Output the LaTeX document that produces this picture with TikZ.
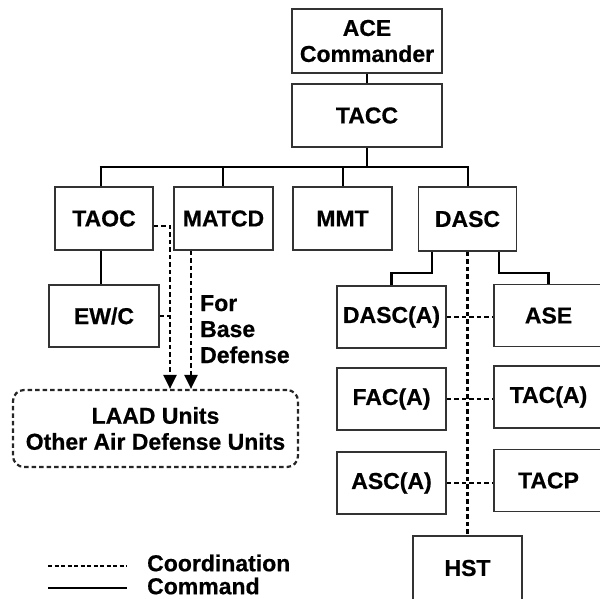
\documentclass[tikz,border=0pt]{standalone}
\usepackage{fontspec}
\setmainfont[BoldFeatures={FakeBold=0.6}]{Liberation Sans}
\usetikzlibrary{arrows.meta}
\begin{document}
\begin{tikzpicture}[x=1pt,y=-1pt,
  box/.style={draw=black!80, line width=1.6pt, inner sep=0pt, minimum width=109pt, minimum height=62pt,
    font=\bfseries\fontsize{23}{26}\selectfont, align=center},
  lbl/.style={inner sep=0pt, font=\bfseries\fontsize{23}{26}\selectfont},
  cmd/.style={line width=2.8pt},
  coord/.style={line width=2.4pt, dash pattern=on 4.5pt off 3pt},
  coordleg/.style={line width=1.8pt, dash pattern=on 4pt off 2.5pt},
  arr/.style={-{Triangle[length=14pt,width=13pt]}}]
\useasboundingbox (0,0) rectangle (600,598);
% boxes
\node[box, minimum width=150pt, minimum height=64pt] (ace) at (367,41) {ACE\\Commander};
\node[box, minimum width=150pt, minimum height=63pt] (tacc) at (367,115.5) {TACC};
\node[box, minimum width=98pt, minimum height=63pt] (taoc) at (104,218.5) {TAOC};
\node[box, minimum width=99pt, minimum height=63pt] (matcd) at (223.5,218.5) {MATCD};
\node[box, minimum width=99pt, minimum height=63pt] (mmt) at (342.5,218.5) {MMT};
\node[box, minimum width=98pt, minimum height=64pt] (dasc) at (467.5,219) {DASC};
\node[box, minimum width=110pt] (ewc) at (104,316) {EW/C};
\node[draw=black!85, line width=2.2pt, dash pattern=on 4.5pt off 3pt, rounded corners=11pt,
  minimum width=285pt, minimum height=77pt, inner sep=0pt,
  font=\bfseries\fontsize{23}{26}\selectfont, align=center] (laad) at (155.5,428.5) {LAAD Units\\Other Air Defense Units};
\node[box] (dasca) at (391.5,317) {DASC(A)};
\node[box] (ase) at (548.5,315.5) {ASE};
\node[box] (faca) at (391.5,399) {FAC(A)};
\node[box] (taca) at (548.5,397) {TAC(A)};
\node[box] (asca) at (391.5,483) {ASC(A)};
\node[box] (tacp) at (548.5,480.5) {TACP};
\node[box, minimum height=64pt] (hst) at (467.5,568) {HST};
% command lines
\coordinate (b1) at (101,167);
\coordinate (b2) at (223,167);
\coordinate (b3) at (343,167);
\coordinate (b4) at (468,167);
\draw[cmd] (ace.south) -- (tacc.north);
\draw[cmd] (tacc.south) -- (tacc.south |- b1);
\draw[cmd] ([xshift=-1.4pt]b1) -- ([xshift=1.4pt]b4);
\draw[cmd] (b1) -- (b1 |- taoc.north);
\draw[cmd] (b2) -- (b2 |- matcd.north);
\draw[cmd] (b3) -- (b3 |- mmt.north);
\draw[cmd] (b4) -- (b4 |- dasc.north);
\draw[cmd] (b1 |- taoc.south) -- (b1 |- ewc.north);
\coordinate (dl) at (432,273);
\coordinate (dr) at (499,273);
\draw[cmd, line join=miter] (dl |- dasc.south) -- (dl) -- (dasca.north |- dl) -- (dasca.north);
\draw[cmd, line join=miter] (dr |- dasc.south) -- (dr) -- (ase.north |- dr) -- (ase.north);
% coordination lines
\draw[coord] (dasc.south) -- (hst.north);
\draw[coord] (dasca.east) -- (dasca.east -| ase.west);
\draw[coord] (faca.east) -- (faca.east -| taca.west);
\draw[coord] (asca.east) -- (asca.east -| tacp.west);
\coordinate (ta) at (170,226);
\coordinate (ma) at (191,0);
\draw[coord, arr] (ta -| taoc.east) -- (ta) -- (ta |- laad.north);
\draw[coord] (ewc.east) -- (ewc.east -| ta);
\draw[coord, arr] (ma |- matcd.south) -- (ma |- laad.north);
\node[lbl, anchor=north west, align=left] (fbd) at (200,295) {For\\Base\\Defense};
% legend
\coordinate (l1a) at (48,566);
\coordinate (l1b) at (127,566);
\coordinate (l2a) at (48,588);
\coordinate (l2b) at (127,588);
\draw[coordleg] (l1a) -- (l1b);
\draw[cmd, line width=2.4pt] (l2a) -- (l2b);
\node[lbl, anchor=west] (lc) at (147,563) {Coordination};
\node[lbl, anchor=west] (lm) at (147,586) {Command};
\end{tikzpicture}
\end{document}
